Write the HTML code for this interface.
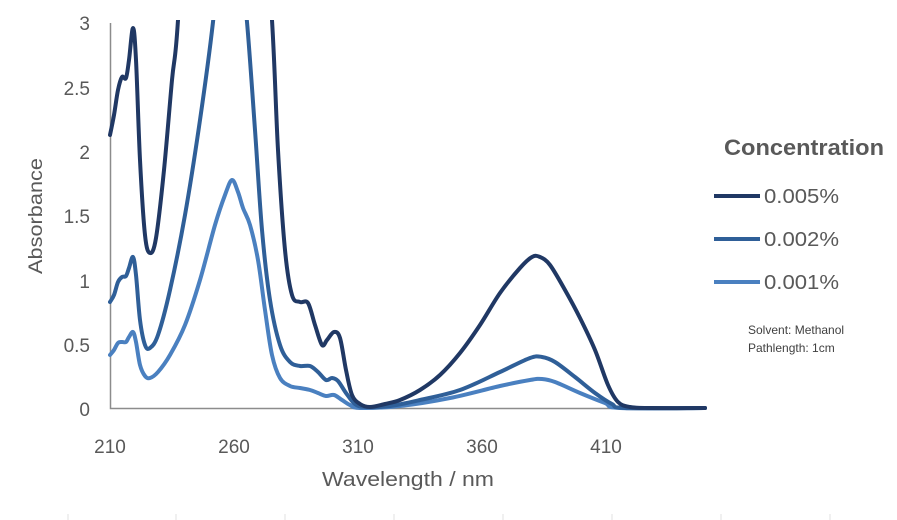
<!DOCTYPE html>
<html><head><meta charset="utf-8"><style>
body{margin:0;background:#fff}
svg{display:block;font-family:"Liberation Sans",sans-serif}
</style></head><body>
<svg id="s" width="897" height="520" viewBox="0 0 897 520">
<defs><clipPath id="c"><rect x="108" y="20" width="600" height="392"/></clipPath></defs>
<g fill="#595959" font-size="19" text-anchor="end">
<text x="90" y="416">0</text><text x="90" y="352">0.5</text><text x="90" y="288">1</text>
<text x="90" y="223">1.5</text><text x="90" y="159">2</text><text x="90" y="95">2.5</text><text x="90" y="30">3</text>
</g>
<g fill="#595959" font-size="19" text-anchor="middle">
<text x="110" y="453">210</text><text x="234" y="453">260</text><text x="358" y="453">310</text>
<text x="482" y="453">360</text><text x="606" y="453">410</text>
<text x="408" y="486" font-size="20" textLength="172" lengthAdjust="spacingAndGlyphs">Wavelength / nm</text>
<text transform="translate(42,216) rotate(-90)" font-size="19" textLength="116" lengthAdjust="spacingAndGlyphs">Absorbance</text>
</g>
<g stroke="#e0e0e0" stroke-width="1">
<line x1="68" y1="514" x2="68" y2="520"/><line x1="176" y1="514" x2="176" y2="520"/><line x1="285" y1="514" x2="285" y2="520"/><line x1="394" y1="514" x2="394" y2="520"/><line x1="503" y1="514" x2="503" y2="520"/><line x1="612" y1="514" x2="612" y2="520"/><line x1="721" y1="514" x2="721" y2="520"/><line x1="830" y1="514" x2="830" y2="520"/>
</g>
<path d="M110.5 23V408.5H707" fill="none" stroke="#8c8c8c" stroke-width="1.5"/>
<g clip-path="url(#c)" fill="none" stroke-width="4" stroke-linejoin="round" stroke-linecap="round">
<path id="p3" stroke="#4a80c0"/><path id="p2" stroke="#2f5f98"/><path id="p1" stroke="#203864"/>
</g>
<text x="724" y="155" font-size="22" font-weight="bold" fill="#595959" textLength="160" lengthAdjust="spacingAndGlyphs">Concentration</text>
<g stroke-width="4"><line x1="714" y1="196" x2="760" y2="196" stroke="#203864"/><line x1="714" y1="239" x2="760" y2="239" stroke="#2f5f98"/><line x1="714" y1="282" x2="760" y2="282" stroke="#4a80c0"/></g>
<g fill="#595959" font-size="20"><text x="764" y="203" textLength="75" lengthAdjust="spacingAndGlyphs">0.005%</text><text x="764" y="246" textLength="75" lengthAdjust="spacingAndGlyphs">0.002%</text><text x="764" y="289" textLength="75" lengthAdjust="spacingAndGlyphs">0.001%</text></g>
<g fill="#404040" font-size="12"><text x="748" y="334">Solvent: Methanol</text><text x="748" y="352">Pathlength: 1cm</text></g>
</svg>
<script>
function cr(p){let d="M"+p[0][0]+" "+p[0][1];for(let i=0;i<p.length-1;i++){const a=p[i-1]||p[i],b=p[i],c=p[i+1],e=p[i+2]||c;
d+=" C"+(b[0]+(c[0]-a[0])/6)+" "+(b[1]+(c[1]-a[1])/6)+" "+(c[0]-(e[0]-b[0])/6)+" "+(c[1]-(e[1]-b[1])/6)+" "+c[0]+" "+c[1];}return d;}
const d1=[[110,135],[114,115],[118,90],[122,77],[126,78],[129,60],[133,28],[136,60],[140,160],[145,235],[150,253],[156,238],[164,170],[172,80],[178,20],[190,-200],[230,-400],[260,-150],[272,20],[278,150],[285,250],[292,295],[300,302],[308,303],[315,325],[322,345],[327,340],[334,332],[340,338],[346,370],[352,395],[360,404],[370,407],[385,404],[400,400],[420,390],[440,375],[460,353],[480,325],[500,293],[520,268],[532,257],[540,257],[550,265],[565,290],[580,318],[595,350],[608,385],[618,402],[630,407],[650,408],[705,408]];
const d2=[[110,302],[114,295],[118,282],[122,277],[126,276],[129,268],[133,257],[136,275],[140,320],[145,345],[150,348],[158,335],[170,290],[185,215],[200,120],[213,22],[225,-100],[240,-40],[247,22],[255,130],[262,230],[270,300],[280,345],[290,362],[300,366],[310,366],[318,372],[326,380],[332,378],[338,381],[346,393],[355,404],[365,407],[390,406],[420,400],[460,390],[500,372],[530,358],[542,357],[555,362],[575,377],[595,393],[612,404],[625,408],[705,408]];
const d3=[[110,355],[114,350],[118,343],[122,342],[126,342],[129,337],[133,332],[136,342],[140,365],[145,376],[150,378],[158,372],[170,355],[185,325],[200,280],[215,225],[225,195],[232,180],[238,192],[243,208],[250,225],[258,260],[265,310],[272,355],[280,378],[290,386],[300,388],[310,390],[318,393],[326,396],[334,395],[342,400],[350,405],[360,408],[400,406],[450,398],[500,386],[530,380],[542,379],[555,382],[580,393],[605,403],[620,408],[705,408]];
document.getElementById("p1").setAttribute("d",cr(d1));
document.getElementById("p2").setAttribute("d",cr(d2));
document.getElementById("p3").setAttribute("d",cr(d3));
</script>
</body></html>
